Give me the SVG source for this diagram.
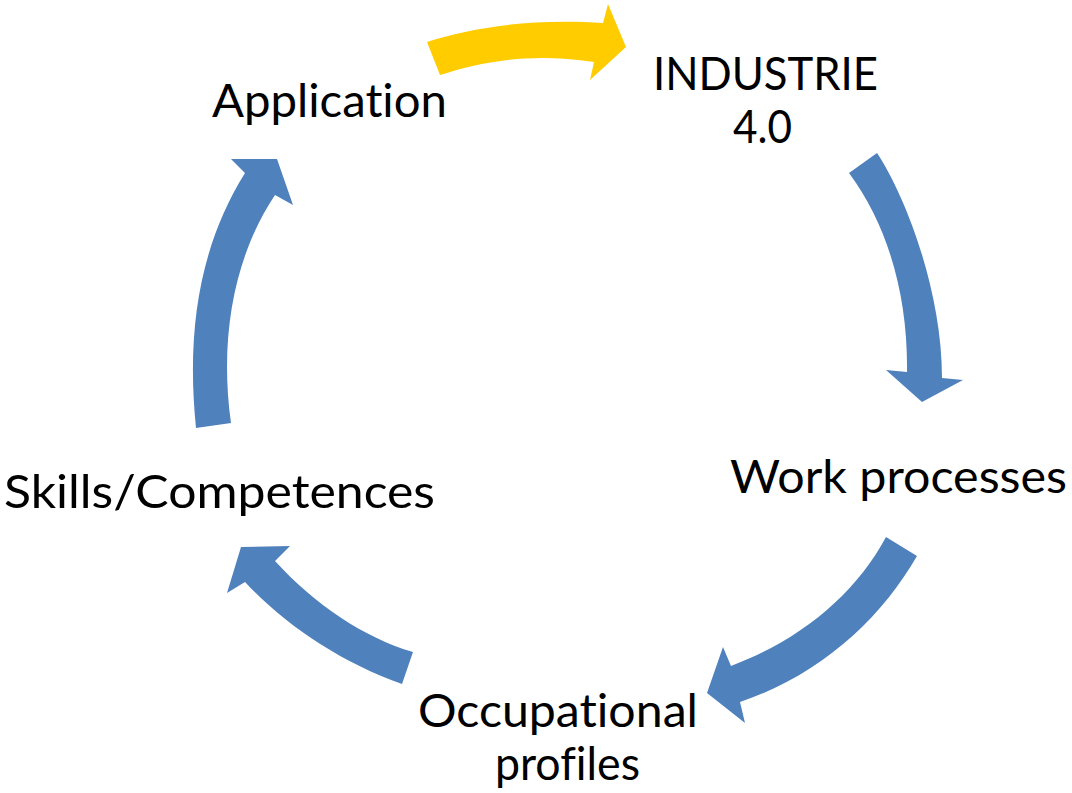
<svg xmlns="http://www.w3.org/2000/svg" width="1072" height="793" viewBox="0 0 1072 793">
<style>
.lbl{font-family:Lato,"Open Sans","Liberation Sans",sans-serif;font-size:47px;fill:#000;font-variant-ligatures:none;font-feature-settings:"liga" 0}
.blue{fill:#4F81BD}
.yellow{fill:#FFCC00}
</style>
<rect width="1072" height="793" fill="#fff"/>
<g id="connectors">
<path class="yellow" d="M427,42 C470,28 530,18 603,23 L608,4 L626,47 L590,80 L594,62 C530,52 480,62 440,75 Z"/>
<path class="blue" d="M849,173 L877,153 C905,195 942,290 942,378 L963,380 L922,402 L886,370 L907,372 C908,300 890,228 849,173 Z"/>
<path class="blue" d="M886,537 L917,556 C880,620 820,675 740,702 L745,723 L707,693 L723,647 L731,666 C800,640 855,595 886,537 Z"/>
<path class="blue" d="M413,652 L402,684 C340,662 285,625 245,582 L227,593 L241,547 L290,546 L275,561 C315,605 365,638 413,652 Z"/>
<path class="blue" d="M196,428 C186,330 200,245 245,173 L231,159 L277,159 L293,205 L275,195 C238,250 218,330 231,423 Z"/>
</g>
<g id="node-industrie">
<text class="lbl" x="653" y="90" textLength="225" lengthAdjust="spacingAndGlyphs">INDUSTRIE</text>
<text class="lbl" x="733" y="143" textLength="59" lengthAdjust="spacingAndGlyphs">4.0</text>
</g>
<g id="node-work">
<text class="lbl" x="730" y="493" textLength="337" lengthAdjust="spacingAndGlyphs">Work processes</text>
</g>
<g id="node-occupational">
<text class="lbl" x="418" y="727" textLength="280" lengthAdjust="spacingAndGlyphs">Occupational</text>
<text class="lbl" x="495" y="780" textLength="145" lengthAdjust="spacingAndGlyphs">profiles</text>
</g>
<g id="node-skills">
<text class="lbl" x="4" y="508" textLength="431" lengthAdjust="spacingAndGlyphs">Skills/Competences</text>
</g>
<g id="node-application">
<text class="lbl" x="212" y="117" textLength="235" lengthAdjust="spacingAndGlyphs">Application</text>
</g>
</svg>
